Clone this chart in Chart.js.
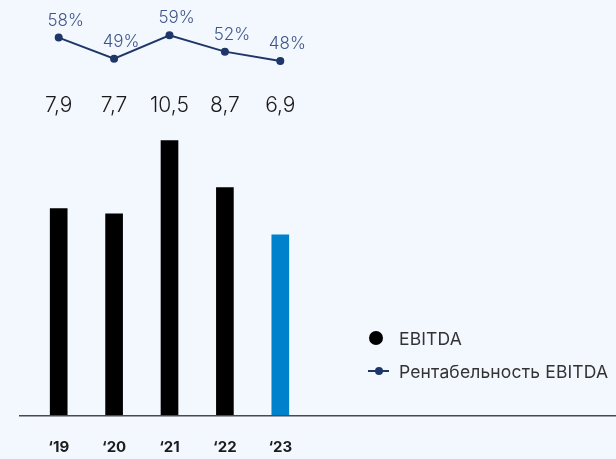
<!DOCTYPE html>
<html>
<head>
<meta charset="utf-8">
<script src="https://cdn.jsdelivr.net/npm/chart.js@4.4.0/dist/chart.umd.min.js"></script>
<style>
  html, body { margin: 0; padding: 0; background: #f3f7fe; overflow: hidden; }
  #wrap { position: relative; width: 616px; height: 459px; overflow: hidden; }
  #legend { position: absolute; left: 368px; top: 326px; font-family: Inter, sans-serif; font-size: 17.5px; letter-spacing: 0.15px; color: #333; }
  #legend .item { display: flex; align-items: center; height: 24px; margin-bottom: 9px; white-space: nowrap; }
  #legend .mark { width: 22px; height: 24px; position: relative; margin-right: 9px; }
  #legend .dot { position: absolute; left: 1px; top: 5px; width: 14px; height: 14px; border-radius: 50%; }
  #legend .ln { position: absolute; left: 0; top: 11px; width: 21px; height: 2px; }
  #legend .pt { position: absolute; left: 7px; top: 8px; width: 8px; height: 8px; border-radius: 50%; }
</style>
</head>
<body>
<div id="wrap">
  <canvas id="chart" width="616" height="479"></canvas>
  <div id="legend"></div>
</div>
<script>
const years = ['‘19', '‘20', '‘21', '‘22', '‘23'];
const ebitda = [7.9, 7.7, 10.5, 8.7, 6.9];
const margin = [58, 49, 59, 52, 48];
const barColors = ['#000000', '#000000', '#000000', '#000000', '#0081cc'];
const lineColor = '#1f3668';

const fmt = v => v.toFixed(1).replace('.', ',');

// baseline running across the whole width
const baseline = {
  id: 'baseline',
  beforeDatasetsDraw(chart) {
    const ctx = chart.ctx;
    const y = chart.scales.y.getPixelForValue(0);
    ctx.save();
    ctx.strokeStyle = '#4a4a4a';
    ctx.lineWidth = 1.5;
    ctx.beginPath();
    ctx.moveTo(19, y + 0.75);
    ctx.lineTo(chart.width, y + 0.75);
    ctx.stroke();
    ctx.restore();
  }
};

// value labels: bar values in a row, percentages next to the points
const valueLabels = {
  id: 'valueLabels',
  afterDatasetsDraw(chart) {
    const ctx = chart.ctx;
    const bars = chart.getDatasetMeta(0).data;
    const pts = chart.getDatasetMeta(1).data;
    ctx.save();
    ctx.textAlign = 'center';
    ctx.textBaseline = 'middle';
    ctx.fillStyle = '#1a1a1a';
    ctx.font = '300 21px Inter';
    bars.forEach((b, i) => {
      ctx.fillText(fmt(ebitda[i]), b.x, chart.chartArea.top + 96);
    });
    ctx.fillStyle = '#3d5588';
    ctx.font = '300 17px Inter';
    pts.forEach((p, i) => {
      ctx.fillText(margin[i] + '%', p.x + 7, p.y - 17);
    });
    ctx.restore();
  }
};

const chart = new Chart(document.getElementById('chart'), {
  data: {
    labels: years,
    datasets: [{
      type: 'bar',
      label: 'EBITDA',
      data: ebitda,
      backgroundColor: barColors,
      barThickness: 17,
      yAxisID: 'y',
      order: 2
    }, {
      type: 'line',
      label: 'Рентабельность EBITDA',
      data: margin,
      borderColor: lineColor,
      backgroundColor: lineColor,
      borderWidth: 2,
      pointRadius: 4,
      pointBackgroundColor: lineColor,
      pointBorderWidth: 0,
      tension: 0,
      yAxisID: 'y2',
      order: 1
    }]
  },
  options: {
    responsive: false,
    animation: false,
    layout: { padding: { left: 31, right: 308, top: 10, bottom: 0 } },
    plugins: { legend: { display: false }, tooltip: { enabled: false } },
    scales: {
      x: {
        grid: { display: false, drawTicks: false },
        border: { display: false },
        ticks: { padding: 23, color: '#1c1c1c', font: { family: 'Inter', size: 15, weight: 'bold' } }
      },
      y: { display: false, min: 0, max: 15.5 },
      y2: { display: false, min: -103.3, max: 69.8 }
    }
  },
  plugins: [baseline, valueLabels]
});

// legend built from the datasets
const legend = document.getElementById('legend');
chart.data.datasets.forEach(ds => {
  const item = document.createElement('div');
  item.className = 'item';
  const mark = document.createElement('div');
  mark.className = 'mark';
  if (ds.type === 'bar') {
    mark.innerHTML = '<div class="dot" style="background:#000"></div>';
  } else {
    mark.innerHTML = '<div class="ln" style="background:' + ds.borderColor + '"></div><div class="pt" style="background:' + ds.borderColor + '"></div>';
  }
  const txt = document.createElement('span');
  txt.textContent = ds.label;
  item.appendChild(mark);
  item.appendChild(txt);
  legend.appendChild(item);
});
</script>
</body>
</html>
